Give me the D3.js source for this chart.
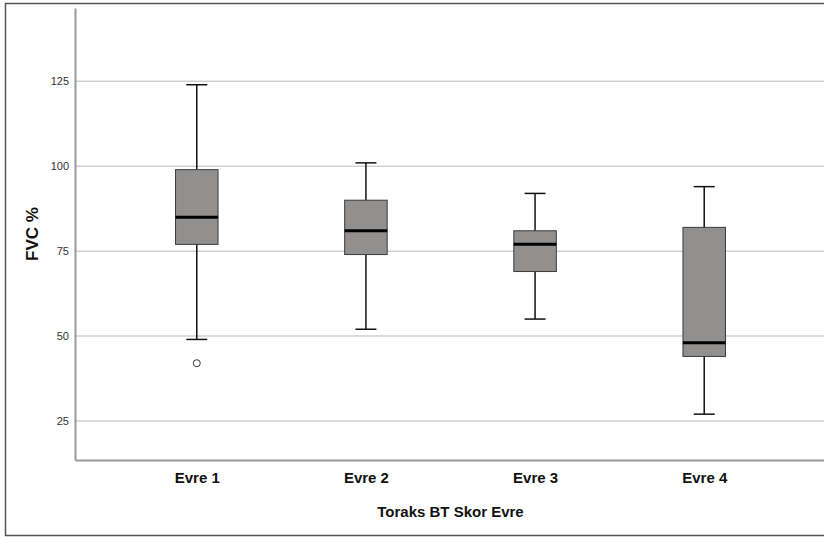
<!DOCTYPE html>
<html>
<head>
<meta charset="utf-8">
<script src="https://cdn.jsdelivr.net/npm/d3@7/dist/d3.min.js"></script>
<style>
  html, body { margin: 0; padding: 0; background: #fff; }
  svg { display: block; font-family: "Liberation Sans", Arial, sans-serif; }
</style>
</head>
<body>
<svg class="chart" width="824" height="537"></svg>
<script>
// Chart data
const categories = ['Evre 1', 'Evre 2', 'Evre 3', 'Evre 4'];
const whiskerLow = [49, 52, 55, 27];
const q1 = [77, 74, 69, 44];
const medians = [85, 81, 77, 48];
const q3 = [99, 90, 81, 82];
const whiskerHigh = [124, 101, 92, 94];
const outliers = [[42], [], [], []];
const yTicks = [25, 50, 75, 100, 125];
const xTitle = 'Toraks BT Skor Evre';
const yTitle = 'FVC %';

const svg = d3.select('.chart');

// Outer frame
svg.append('rect')
  .attr('x', 5.5).attr('y', 3.5)
  .attr('width', 830).attr('height', 532)
  .attr('fill', 'none').attr('stroke', '#555').attr('stroke-width', 1.5);

const plotLeft = 75, plotRight = 826, plotTop = 8, plotBottom = 460;

// Scales
const xScale = d3.scalePoint().domain(categories).range([plotLeft, plotRight]).padding(0.72);
const yScale = d3.scaleLinear().domain([13.5, 146.6]).range([plotBottom, plotTop]);

// Gridlines
svg.append('g').selectAll('line')
  .data(yTicks).enter().append('line')
  .attr('x1', plotLeft).attr('x2', plotRight)
  .attr('y1', d => yScale(d)).attr('y2', d => yScale(d))
  .attr('stroke', '#cfcfcf').attr('stroke-width', 1.5);

// Y axis
const yAxis = d3.axisLeft(yScale).tickValues(yTicks).tickSize(0).tickPadding(6);
const yg = svg.append('g').attr('transform', `translate(${plotLeft},0)`).call(yAxis);
yg.select('.domain').attr('stroke', '#999').attr('stroke-width', 2);
yg.selectAll('text').attr('font-size', 11).attr('fill', '#333')
  .attr('font-family', '"Liberation Sans", Arial, sans-serif');

// X axis
const xAxis = d3.axisBottom(xScale).tickSize(0).tickPadding(12);
const xg = svg.append('g').attr('transform', `translate(0,${plotBottom})`).call(xAxis);
xg.select('.domain').attr('stroke', '#999').attr('stroke-width', 2);
xg.selectAll('text').attr('font-size', 15).attr('font-weight', 'bold').attr('fill', '#111')
  .attr('font-family', '"Liberation Sans", Arial, sans-serif');

// Boxes
const boxes = categories.map((c, i) => ({
  cat: c, lo: whiskerLow[i], q1: q1[i], med: medians[i], q3: q3[i], hi: whiskerHigh[i], out: outliers[i]
}));
const boxW = 42.5, capW = 21;

const g = svg.append('g').selectAll('g').data(boxes).enter().append('g')
  .attr('transform', d => `translate(${xScale(d.cat)},0)`);

// Whiskers
g.append('line').attr('x1', 0).attr('x2', 0)
  .attr('y1', d => yScale(d.hi)).attr('y2', d => yScale(d.q3))
  .attr('stroke', '#111').attr('stroke-width', 1.5);
g.append('line').attr('x1', 0).attr('x2', 0)
  .attr('y1', d => yScale(d.q1)).attr('y2', d => yScale(d.lo))
  .attr('stroke', '#111').attr('stroke-width', 1.5);
g.append('line').attr('x1', -capW / 2).attr('x2', capW / 2)
  .attr('y1', d => yScale(d.hi)).attr('y2', d => yScale(d.hi))
  .attr('stroke', '#111').attr('stroke-width', 1.5);
g.append('line').attr('x1', -capW / 2).attr('x2', capW / 2)
  .attr('y1', d => yScale(d.lo)).attr('y2', d => yScale(d.lo))
  .attr('stroke', '#111').attr('stroke-width', 1.5);

// Box
g.append('rect')
  .attr('x', -boxW / 2).attr('width', boxW)
  .attr('y', d => yScale(d.q3)).attr('height', d => yScale(d.q1) - yScale(d.q3))
  .attr('fill', '#928f8f').attr('stroke', '#3a3a3a').attr('stroke-width', 1);

// Median
g.append('line').attr('x1', -boxW / 2).attr('x2', boxW / 2)
  .attr('y1', d => yScale(d.med)).attr('y2', d => yScale(d.med))
  .attr('stroke', '#000').attr('stroke-width', 3);

// Outliers
g.selectAll('circle').data(d => d.out).enter().append('circle')
  .attr('cx', 0).attr('cy', d => yScale(d)).attr('r', 3.5)
  .attr('fill', '#fff').attr('stroke', '#333').attr('stroke-width', 1);

// Axis titles
svg.append('text')
  .attr('x', (plotLeft + plotRight) / 2).attr('y', 517)
  .attr('text-anchor', 'middle').attr('font-size', 15).attr('font-weight', 'bold').attr('fill', '#111')
  .text(xTitle);
svg.append('text')
  .attr('transform', `translate(38,${(plotTop + plotBottom) / 2}) rotate(-90)`)
  .attr('text-anchor', 'middle').attr('font-size', 17).attr('font-weight', 'bold').attr('fill', '#111')
  .text(yTitle);
</script>
</body>
</html>
